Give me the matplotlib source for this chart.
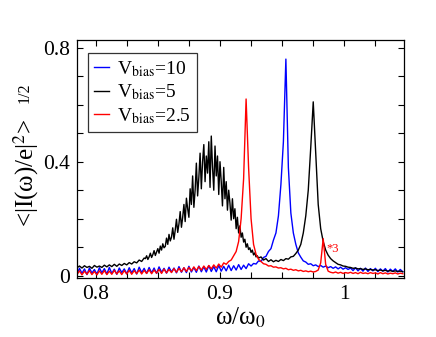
import numpy as np
import matplotlib
matplotlib.use("Agg")
import matplotlib.pyplot as plt
from matplotlib.ticker import MultipleLocator

# common sampling grid of omega/omega_0 (0.785 ... 1.047, step 0.002)
omega = np.linspace(0.785, 1.047, 132)
# finer grid for the black (Vbias=5) spectrum in its noisy broad bump
omega_black = np.concatenate([np.linspace(0.785, 0.839, 28),
                              np.linspace(0.840, 0.930, 91),
                              np.linspace(0.931, 1.047, 59)])

vbias10 = [  # blue
    0.006, 0.026, 0.008, 0.024, 0.004, 0.027, 0.009, 0.022, 0.005, 0.028,
    0.010, 0.025, 0.006, 0.029, 0.008, 0.023, 0.005, 0.027, 0.011, 0.024,
    0.007, 0.028, 0.010, 0.025, 0.006, 0.030, 0.011, 0.026, 0.008, 0.029,
    0.010, 0.027, 0.008, 0.031, 0.012, 0.026, 0.009, 0.030, 0.013, 0.027,
    0.010, 0.032, 0.012, 0.028, 0.011, 0.033, 0.013, 0.029, 0.012, 0.034,
    0.014, 0.031, 0.013, 0.035, 0.015, 0.032, 0.014, 0.036, 0.016, 0.033,
    0.017, 0.037, 0.018, 0.035, 0.020, 0.039, 0.022, 0.037, 0.025, 0.042,
    0.034, 0.043, 0.041, 0.052, 0.050, 0.064, 0.068, 0.085, 0.095, 0.125,
    0.150, 0.210, 0.320, 0.470, 0.760, 0.380, 0.220, 0.150, 0.110, 0.080,
    0.065, 0.052, 0.048, 0.040, 0.042, 0.035, 0.038, 0.032, 0.036, 0.030,
    0.034, 0.028, 0.032, 0.026, 0.031, 0.024, 0.030, 0.023, 0.028, 0.022,
    0.027, 0.018, 0.028, 0.017, 0.026, 0.016, 0.027, 0.015, 0.025, 0.017,
    0.026, 0.014, 0.024, 0.016, 0.025, 0.013, 0.023, 0.015, 0.024, 0.013,
    0.022, 0.014,
]

vbias5 = [  # black
    0.028, 0.034, 0.027, 0.035, 0.029, 0.033, 0.026, 0.036, 0.030, 0.034,
    0.029, 0.037, 0.031, 0.038, 0.032, 0.040, 0.033, 0.041, 0.036, 0.043,
    0.038, 0.046, 0.041, 0.049, 0.045, 0.055, 0.050, 0.062,
    # fine part 0.840 ... 0.930
    0.060, 0.070, 0.057, 0.066, 0.079, 0.064, 0.074, 0.088, 0.071, 0.083,
    0.095, 0.079, 0.104, 0.090, 0.112, 0.098, 0.103, 0.132, 0.110, 0.145,
    0.122, 0.135, 0.168, 0.128, 0.160, 0.198, 0.152, 0.182, 0.225, 0.170,
    0.205, 0.250, 0.190, 0.272, 0.235, 0.205, 0.305, 0.250, 0.350, 0.240,
    0.300, 0.395, 0.280, 0.345, 0.430, 0.305, 0.400, 0.460, 0.330, 0.420,
    0.360, 0.470, 0.310, 0.490, 0.380, 0.300, 0.455, 0.350, 0.420, 0.285,
    0.400, 0.330, 0.245, 0.380, 0.270, 0.330, 0.230, 0.300, 0.255, 0.195,
    0.270, 0.200, 0.235, 0.165, 0.205, 0.150, 0.175, 0.135, 0.150, 0.118,
    0.128, 0.100, 0.112, 0.092, 0.098, 0.082, 0.090, 0.073, 0.080, 0.066,
    0.070,
    # 0.931 ... 1.047
    0.062, 0.066, 0.055, 0.060, 0.050, 0.056, 0.049,
    0.054, 0.050, 0.057, 0.053, 0.060, 0.058, 0.066, 0.068, 0.078, 0.090,
    0.110, 0.150, 0.210, 0.300, 0.450, 0.610, 0.430, 0.250, 0.165, 0.120,
    0.090, 0.072, 0.060, 0.052, 0.046, 0.040, 0.038, 0.034, 0.033, 0.030,
    0.029, 0.026, 0.027, 0.024, 0.025, 0.022, 0.024, 0.021, 0.022, 0.020,
    0.021, 0.018, 0.020, 0.017, 0.019, 0.016, 0.018, 0.015, 0.017, 0.015,
    0.016, 0.014,
]

vbias25 = [  # red
    0.004, 0.017, 0.003, 0.016, 0.005, 0.018, 0.004, 0.015, 0.003, 0.017,
    0.005, 0.018, 0.004, 0.016, 0.005, 0.019, 0.006, 0.017, 0.004, 0.018,
    0.006, 0.019, 0.005, 0.018, 0.007, 0.020, 0.006, 0.019, 0.008, 0.021,
    0.007, 0.020, 0.009, 0.022, 0.008, 0.023, 0.010, 0.022, 0.011, 0.025,
    0.012, 0.026, 0.014, 0.028, 0.015, 0.029, 0.017, 0.031, 0.018, 0.032,
    0.020, 0.034, 0.022, 0.036, 0.024, 0.038, 0.027, 0.041, 0.030, 0.045,
    0.040, 0.050, 0.055, 0.070, 0.085, 0.120, 0.200, 0.340, 0.620, 0.380,
    0.200, 0.110, 0.075, 0.058, 0.050, 0.042, 0.040, 0.034, 0.035, 0.030,
    0.031, 0.027, 0.028, 0.024, 0.026, 0.021, 0.023, 0.019, 0.021, 0.017,
    0.019, 0.015, 0.017, 0.014, 0.016, 0.013, 0.015, 0.020, 0.045, 0.130,
    0.040, 0.016, 0.012, 0.010, 0.013, 0.009, 0.012, 0.008, 0.011, 0.009,
    0.012, 0.008, 0.011, 0.007, 0.012, 0.008, 0.010, 0.007, 0.011, 0.008,
    0.010, 0.006, 0.011, 0.007, 0.010, 0.006, 0.009, 0.007, 0.010, 0.006,
    0.009, 0.007,
]

labels = [r"V$_{\mathrm{bias}}$=10", r"V$_{\mathrm{bias}}$=5", r"V$_{\mathrm{bias}}$=2.5"]
colors = ["#0000ff", "#000000", "#ff0000"]
xticks = [0.8, 0.9, 1.0]
xticklabels = ["0.8", "0.9", "1"]
yticks = [0.0, 0.4, 0.8]
yticklabels = ["0", "0.4", "0.8"]
annot_text = "*3"
annot_pos = (0.9855, 0.092)

plt.rcParams["font.family"] = ["Liberation Serif", "DejaVu Serif"]
plt.rcParams["mathtext.fontset"] = "stix"

W, H = 436, 337
fig = plt.figure(figsize=(W / 100, H / 100), dpi=100)
ax = fig.add_axes([77 / W, 1 - 278 / H, 327 / W, 238 / H])

for xs, vals, lab, col in zip([omega, omega_black, omega],
                              [vbias10, vbias5, vbias25], labels, colors):
    ax.plot(xs, vals, color=col, lw=1.0, label=lab)

ax.text(annot_pos[0], annot_pos[1], annot_text, color="#ff0000", fontsize=9,
        ha="left", va="center")

ax.set_xlim(0.785, 1.048)
ax.set_ylim(-0.008, 0.827)
ax.set_xticks(xticks)
ax.set_xticklabels(xticklabels)
ax.set_yticks(yticks)
ax.set_yticklabels(yticklabels)
ax.xaxis.set_minor_locator(MultipleLocator(0.025))
ax.yaxis.set_minor_locator(MultipleLocator(0.1))
ax.tick_params(which="both", direction="in", top=True, right=True,
               length=4.5, width=0.8, labelsize=15.5)
ax.tick_params(which="major", pad=5)
for s in ax.spines.values():
    s.set_linewidth(0.9)

ax.set_xlabel(r"ω/ω$_0$", fontsize=18, labelpad=1)

# y label: main part plus a small "1/2" exponent placed right after it
fig.text(26 / W, 1 - 173 / H, r"<|I(ω)/e|$^2$>", rotation=90, fontsize=18,
         ha="center", va="center")
fig.text(25 / W, 1 - 93 / H, "1/2", rotation=90, fontsize=11.5,
         ha="center", va="center")

leg = ax.legend(loc="upper left", bbox_to_anchor=(0.034, 0.945), fontsize=14,
                frameon=True, fancybox=False, handlelength=0.75,
                handletextpad=0.45, borderpad=0.3, labelspacing=0.2,
                borderaxespad=0)
leg.get_frame().set_edgecolor("black")
leg.get_frame().set_linewidth(0.9)

fig.savefig("out.png", dpi=100)
